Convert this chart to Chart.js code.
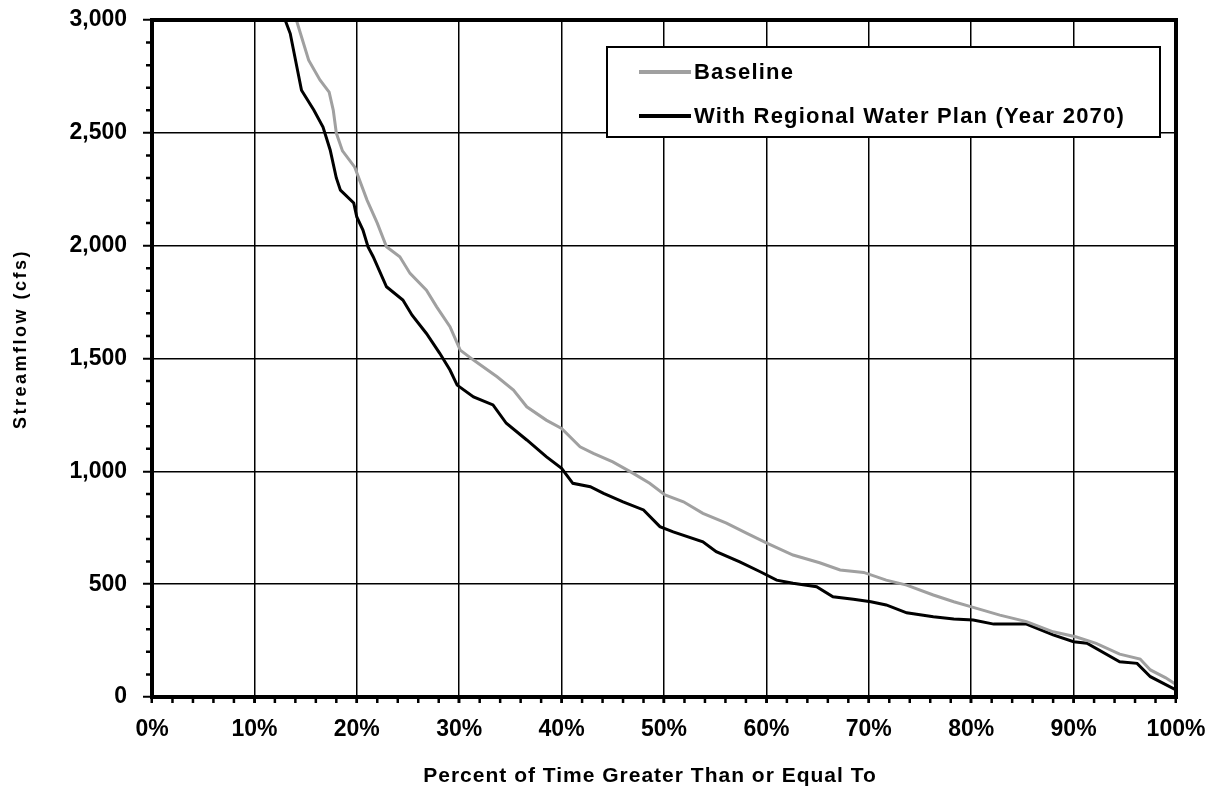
<!DOCTYPE html>
<html>
<head>
<meta charset="utf-8">
<script src="https://cdn.jsdelivr.net/npm/chart.js@4/dist/chart.umd.min.js"></script>
<style>
  html, body { margin: 0; padding: 0; background: #fff; }
  #wrap { width: 1209px; height: 791px; }
</style>
</head>
<body>
<div id="wrap"><canvas id="c" width="1209" height="791"></canvas></div>
<script>
// ---- Data ----
const seriesNames = ["Baseline", "With Regional Water Plan (Year 2070)"];
const xTickValues = [0, 10, 20, 30, 40, 50, 60, 70, 80, 90, 100];
const yTickValues = [0, 500, 1000, 1500, 2000, 2500, 3000];

const baselinePct = [14.1, 14.5, 15.3, 16.4, 17.3, 17.7, 18.0, 18.6, 19.8, 21.0, 22.0, 22.9, 24.2, 25.2, 26.8, 27.8, 29.1, 30.1, 31.4, 33.7, 35.3, 36.6, 38.5, 40.0, 41.8, 43.1, 45.0, 47.0, 48.6, 50.1, 51.9, 53.8, 56.1, 58.1, 60.1, 62.6, 65.2, 67.2, 69.5, 71.7, 73.7, 76.3, 78.3, 80.2, 82.8, 85.4, 88.0, 90.2, 92.2, 94.5, 96.5, 97.5, 99.0, 100];
const baselineCfs = [3000, 2940, 2822, 2734, 2680, 2601, 2499, 2420, 2348, 2202, 2100, 1995, 1951, 1877, 1803, 1729, 1641, 1537, 1493, 1419, 1360, 1286, 1227, 1190, 1109, 1080, 1042, 991, 947, 895, 865, 814, 770, 725, 681, 629, 595, 563, 552, 518, 496, 452, 422, 397, 363, 334, 289, 267, 238, 190, 168, 120, 85, 55];

const planPct = [13.0, 13.5, 14.6, 15.8, 16.7, 17.4, 18.0, 18.4, 19.7, 20.0, 20.6, 21.1, 21.6, 22.9, 24.5, 25.4, 26.8, 28.1, 29.1, 29.8, 31.4, 33.3, 34.6, 36.6, 38.5, 40.0, 41.1, 42.8, 44.1, 46.0, 48.0, 49.6, 50.9, 53.8, 55.1, 57.4, 59.4, 61.0, 62.6, 64.9, 66.5, 68.5, 70.2, 71.7, 73.7, 76.3, 78.3, 80.2, 82.2, 85.4, 88.0, 90.0, 91.3, 94.5, 96.2, 97.5, 100];
const planCfs = [3000, 2940, 2689, 2601, 2526, 2424, 2300, 2246, 2189, 2127, 2069, 1994, 1951, 1818, 1759, 1692, 1611, 1523, 1449, 1382, 1330, 1294, 1213, 1139, 1065, 1013, 947, 932, 902, 865, 829, 755, 732, 688, 644, 599, 555, 518, 504, 489, 444, 433, 422, 408, 373, 356, 346, 341, 323, 323, 275, 245, 238, 156, 149, 90, 31];

const seriesColors = ["#a0a0a0", "#000000"];
const FONT = "'Liberation Sans', Arial, sans-serif";

// ---- Plugins ----
const minorTicks = {
  id: 'minorTicks',
  afterDraw(chart) {
    const ctx = chart.ctx, xs = chart.scales.x, ys = chart.scales.y, a = chart.chartArea;
    ctx.save();
    ctx.strokeStyle = '#000';
    ctx.lineWidth = 2.5;
    ctx.beginPath();
    for (let v = 100; v < 3000; v += 100) {
      if (v % 500 === 0) continue;
      const y = ys.getPixelForValue(v);
      ctx.moveTo(a.left - 6, y); ctx.lineTo(a.left, y);
    }
    for (let p = 2; p < 100; p += 2) {
      const x = xs.getPixelForValue(p);
      ctx.moveTo(x, a.bottom); ctx.lineTo(x, a.bottom + 6);
    }
    ctx.stroke();
    // frame
    ctx.lineWidth = 4;
    ctx.strokeRect(a.left, a.top, a.right - a.left, a.bottom - a.top);
    ctx.restore();
  }
};

const customLegendAndTitles = {
  id: 'customLegendAndTitles',
  afterDraw(chart) {
    const ctx = chart.ctx;
    ctx.save();
    // legend box
    const bx = 607, by = 47, bw = 553, bh = 90;
    ctx.fillStyle = '#fff';
    ctx.fillRect(bx, by, bw, bh);
    ctx.strokeStyle = '#000';
    ctx.lineWidth = 2;
    ctx.strokeRect(bx, by, bw, bh);
    const rows = [72, 116];
    chart.data.datasets.forEach((ds, i) => {
      const y = rows[i];
      ctx.strokeStyle = ds.borderColor;
      ctx.lineWidth = 4;
      ctx.beginPath(); ctx.moveTo(639, y); ctx.lineTo(691, y); ctx.stroke();
      ctx.fillStyle = '#000';
      ctx.font = "bold 22px " + FONT;
      ctx.letterSpacing = '1.2px';
      ctx.textAlign = 'left';
      ctx.textBaseline = 'middle';
      ctx.fillText(ds.label, 694, y + 1);
    });
    // x axis title
    ctx.fillStyle = '#000';
    ctx.font = "bold 21px " + FONT;
    ctx.letterSpacing = '1px';
    ctx.textAlign = 'center';
    ctx.textBaseline = 'middle';
    ctx.fillText('Percent of Time Greater Than or Equal To', 650, 776);
    // y axis title
    ctx.translate(21, 339);
    ctx.rotate(-Math.PI / 2);
    ctx.font = "bold 18px " + FONT;
    ctx.letterSpacing = '2.5px';
    ctx.fillText('Streamflow (cfs)', 0, 0);
    ctx.restore();
  }
};

new Chart(document.getElementById('c'), {
  type: 'line',
  data: {
    datasets: [
      {
        label: seriesNames[0],
        data: baselinePct.map((p, i) => ({ x: p, y: baselineCfs[i] })),
        borderColor: seriesColors[0],
        borderWidth: 3,
        pointRadius: 0,
        tension: 0,
        fill: false
      },
      {
        label: seriesNames[1],
        data: planPct.map((p, i) => ({ x: p, y: planCfs[i] })),
        borderColor: seriesColors[1],
        borderWidth: 3,
        pointRadius: 0,
        tension: 0,
        fill: false
      }
    ]
  },
  options: {
    responsive: false,
    animation: false,
    devicePixelRatio: 1,
    layout: { padding: { left: 0, right: 33, top: 20, bottom: 0 } },
    plugins: { legend: { display: false }, tooltip: { enabled: false } },
    scales: {
      x: {
        type: 'linear',
        min: 0, max: 100,
        afterBuildTicks: (s) => { s.ticks = xTickValues.map(v => ({ value: v })); },
        afterFit: (s) => { s.height = 94; s.paddingLeft = 0; s.paddingRight = 0; },
        ticks: {
          callback: (v) => v + '%',
          font: { family: FONT, size: 23, weight: 'bold' },
          color: '#000',
          padding: 13,
          maxRotation: 0
        },
        grid: { color: '#000', lineWidth: 1.5, tickLength: 6, tickWidth: 2.5, tickColor: '#000' },
        border: { display: true, color: '#000', width: 4 }
      },
      y: {
        type: 'linear',
        min: 0, max: 3000,
        afterBuildTicks: (s) => { s.ticks = yTickValues.map(v => ({ value: v })); },
        afterFit: (s) => { s.width = 152; s.paddingTop = 0; s.paddingBottom = 0; },
        ticks: {
          callback: (v) => v.toLocaleString('en-US'),
          font: { family: FONT, size: 23, weight: 'bold' },
          color: '#000',
          padding: 16
        },
        grid: { color: '#000', lineWidth: 1.5, tickLength: 9, tickWidth: 2, tickColor: '#000' },
        border: { display: true, color: '#000', width: 4 }
      }
    }
  },
  plugins: [minorTicks, customLegendAndTitles]
});
</script>
</body>
</html>
